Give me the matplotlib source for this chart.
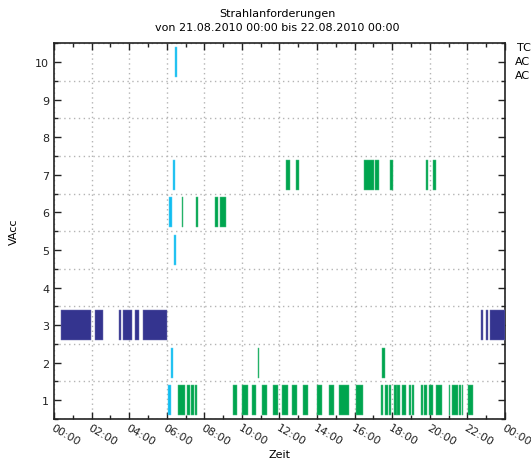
import matplotlib
matplotlib.use("Agg")
import matplotlib.pyplot as plt
from matplotlib.ticker import MultipleLocator, FuncFormatter

# Farben wie im gnuplot-Original (Fläche, Rand)
BLUE = ("#34348f", "#6f6fb0")
GREEN = ("#00a54f", "#4cc084")
CYAN = ("#10bdf0", "#5fd2f5")

TITLE = "Strahlanforderungen\nvon 21.08.2010 00:00 bis 22.08.2010 00:00"
LEGEND_LABELS = ["TC", "AC", "AC"]

# Belegungsintervalle in Stunden (start, ende), je VAcc-Zeile
vacc1_cyan = [(6.09, 6.21)]
vacc1_green = [
    (6.60, 6.98), (7.07, 7.24), (7.28, 7.46), (7.49, 7.62),
    (9.52, 9.73), (10.03, 10.32), (10.53, 10.73), (11.08, 11.35),
    (11.65, 11.92), (12.11, 12.43), (12.68, 12.95), (13.27, 13.53),
    (14.00, 14.27), (14.62, 14.92), (15.19, 15.72), (16.08, 16.45),
    (17.38, 17.50), (17.64, 17.75), (17.82, 17.91), (18.09, 18.23),
    (18.27, 18.39), (18.53, 18.73), (18.87, 18.99), (19.03, 19.14),
    (19.51, 19.63), (19.69, 19.83), (19.97, 20.19), (20.35, 20.65),
    (21.02, 21.09), (21.16, 21.52), (21.56, 21.64), (21.73, 21.79),
    (22.05, 22.30),
]
vacc2_cyan = [(6.23, 6.34)]
vacc2_green = [(10.85, 10.92), (17.47, 17.64)]
vacc3_blue = [
    (0.36, 1.96), (2.19, 2.60), (3.44, 3.58), (3.65, 4.17),
    (4.33, 4.54), (4.75, 6.03), (22.71, 22.82), (22.99, 23.12),
    (23.19, 24.00),
]
vacc5_cyan = [(6.40, 6.51)]
vacc6_cyan = [(6.12, 6.27)]
vacc6_green = [(6.82, 6.87), (7.58, 7.65), (8.58, 8.74), (8.84, 9.15)]
vacc7_cyan = [(6.35, 6.46)]
vacc7_green = [
    (12.36, 12.54), (12.90, 13.04), (16.49, 17.02), (17.06, 17.32),
    (17.89, 18.05), (19.78, 19.92), (20.19, 20.35),
]
vacc10_cyan = [(6.44, 6.55)]

rows = [
    (1, vacc1_cyan, CYAN), (1, vacc1_green, GREEN),
    (2, vacc2_cyan, CYAN), (2, vacc2_green, GREEN),
    (3, vacc3_blue, BLUE),
    (5, vacc5_cyan, CYAN),
    (6, vacc6_cyan, CYAN), (6, vacc6_green, GREEN),
    (7, vacc7_cyan, CYAN), (7, vacc7_green, GREEN),
    (10, vacc10_cyan, CYAN),
]

fig = plt.figure(figsize=(5.31, 4.64), dpi=100)
ax = fig.add_axes([0.1017, 0.0948, 0.8493, 0.8097])

for vacc, spans, (face, edge) in rows:
    ax.broken_barh([(a, b - a) for a, b in spans], (vacc - 0.4, 0.8),
                   facecolors=face, edgecolors=edge, linewidth=0.35, zorder=3)

ax.set_xlim(0, 24)
ax.set_ylim(0.5, 10.5)

ax.xaxis.set_major_locator(MultipleLocator(2))
ax.xaxis.set_minor_locator(MultipleLocator(1))
ax.yaxis.set_major_locator(MultipleLocator(1))
ax.yaxis.set_minor_locator(MultipleLocator(0.5))
ax.xaxis.set_major_formatter(FuncFormatter(lambda v, p: "%02d:00" % (int(round(v)) % 24)))

ax.tick_params(which="both", direction="in", top=True, right=True, labelsize=8,
               colors="#222222")
ax.tick_params(which="major", length=5, width=1)
ax.tick_params(which="minor", length=3, width=1)
ax.tick_params(axis="x", which="major", pad=2)

for lab in ax.get_xticklabels():
    lab.set_rotation(-30)
    lab.set_ha("left")
    lab.set_va("top")
    lab.set_rotation_mode("anchor")

# Gitter: vertikal alle 2 h, horizontal an den halben Werten
ax.grid(which="major", axis="x", color="#b4b4b4", linestyle=(0, (1, 2.5)), linewidth=1)
ax.grid(which="minor", axis="y", color="#b4b4b4", linestyle=(0, (1, 2.5)), linewidth=1)
ax.set_axisbelow(True)

for s in ax.spines.values():
    s.set_linewidth(1.2)
    s.set_color("#222222")

ax.set_xlabel("Zeit", fontsize=8)
ax.xaxis.set_label_coords(0.5, -0.08)
ax.set_ylabel("VAcc", fontsize=8, labelpad=12)
fig.text(0.523, 0.955, TITLE, ha="center", va="center", fontsize=8,
         linespacing=1.45)

# Legende am rechten Rand (im Original abgeschnitten)
for i, (lab, x) in enumerate(zip(LEGEND_LABELS, [0.973, 0.969, 0.969])):
    fig.text(x, 0.896 - i * 0.03, lab, ha="left", va="center", fontsize=8)

fig.savefig("out.png", dpi=100)
